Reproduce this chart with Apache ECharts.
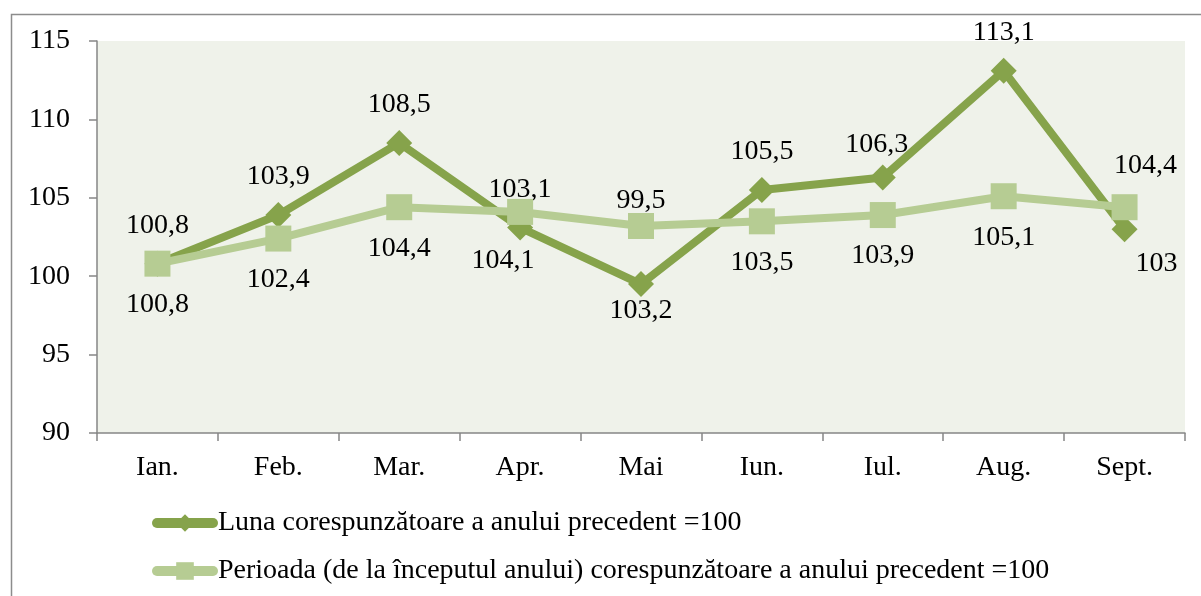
<!DOCTYPE html>
<html>
<head>
<meta charset="utf-8">
<script src="https://cdn.jsdelivr.net/npm/echarts@6/dist/echarts.min.js"></script>
<style>
html,body{margin:0;padding:0;background:#fff;}
#c{width:1201px;height:596px;}
</style>
</head>
<body>
<div id="c"></div>
<script>
const categories = ['Ian.', 'Feb.', 'Mar.', 'Apr.', 'Mai', 'Iun.', 'Iul.', 'Aug.', 'Sept.'];
const lunaValues = [100.8, 103.9, 108.5, 103.1, 99.5, 105.5, 106.3, 113.1, 103];
const perioadaValues = [100.8, 102.4, 104.4, 104.1, 103.2, 103.5, 103.9, 105.1, 104.4];
const seriesNames = ['Luna corespunzătoare a anului precedent =100', 'Perioada (de la începutul anului) corespunzătoare a anului precedent =100'];

const FONT = 'Liberation Serif';
const FS = 28;
const fmt = p => String(p.value).replace('.', ',');

// label placement tweaks (as in the reference)
const lunaLabelTweaks = { 4: { offset: [0, -45] }, 6: { offset: [-6, 5] }, 8: { position: 'inside', offset: [32, 34] } };
const perLabelTweaks = { 3: { offset: [-17, 8] }, 4: { offset: [0, 44] }, 8: { position: 'inside', offset: [21, -42] } };

const chart = echarts.init(document.getElementById('c'));
const lunaData = lunaValues.map((v, i) => lunaLabelTweaks[i] ? { value: v, label: lunaLabelTweaks[i] } : v);
const perData = perioadaValues.map((v, i) => perLabelTweaks[i] ? { value: v, label: perLabelTweaks[i] } : v);
chart.setOption({
  animation: false,
  textStyle: { fontFamily: FONT },
  graphic: [{
    type: 'rect', left: 9, top: 12, shape: { width: 1400, height: 800 },
    style: { fill: 'none', stroke: '#8c8c8c', lineWidth: 1.5 }, silent: true, z: -10
  }],
  grid: { left: 97, right: 16, top: 41, bottom: 163, show: true, backgroundColor: '#eff2ea', borderWidth: 0 },
  legend: {
    orient: 'vertical', left: 152, top: 509, padding: 0, itemGap: 20, itemWidth: 56, itemHeight: 22,
    lineStyle: { width: 10, cap: 'round' },
    textStyle: { fontFamily: FONT, fontSize: FS, color: '#000' },
    data: seriesNames
  },
  xAxis: {
    type: 'category', data: categories, boundaryGap: true,
    axisLine: { lineStyle: { color: '#868686', width: 1.5 } },
    axisTick: { show: true, interval: 0, length: 8, lineStyle: { color: '#868686', width: 1.5 } },
    axisLabel: { fontFamily: FONT, fontSize: FS, color: '#000', margin: 21, interval: 0 }
  },
  yAxis: {
    type: 'value', min: 90, max: 115, interval: 5,
    splitLine: { show: false },
    axisLine: { show: true, lineStyle: { color: '#868686', width: 1.5 } },
    axisTick: { show: true, length: 8, lineStyle: { color: '#868686', width: 1.5 } },
    axisLabel: { fontFamily: FONT, fontSize: FS, color: '#000', margin: 27 }
  },
  series: [
    {
      name: seriesNames[0], type: 'line', data: lunaData,
      symbol: 'diamond', symbolSize: 26,
      lineStyle: { color: '#86a34b', width: 8 },
      itemStyle: { color: '#86a34b' },
      label: { show: true, position: 'top', distance: 11, fontFamily: FONT, fontSize: FS, color: '#000', formatter: fmt },
      z: 2
    },
    {
      name: seriesNames[1], type: 'line', data: perData,
      symbol: 'rect', symbolSize: 26,
      lineStyle: { color: '#b6cc93', width: 8 },
      itemStyle: { color: '#b6cc93' },
      label: { show: true, position: 'bottom', distance: 14, fontFamily: FONT, fontSize: FS, color: '#000', formatter: fmt },
      z: 3
    }
  ]
});
</script>
</body>
</html>
